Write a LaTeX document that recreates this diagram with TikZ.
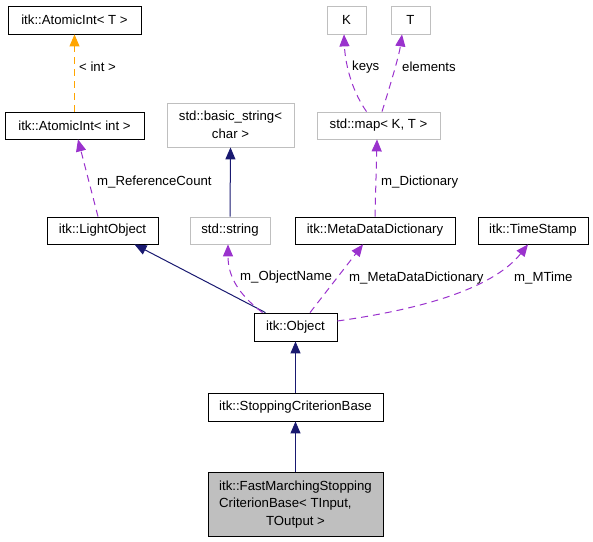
\documentclass[tikz,border=0pt]{standalone}
\usepackage{fontspec}
\setmainfont{Liberation Sans}
\usetikzlibrary{arrows.meta}
\tikzset {>={Triangle[length=12pt,width=10pt]}}
\definecolor{navyblue}{HTML}{191970}
\definecolor{orchid}{HTML}{9A32CD}
\definecolor{doxorange}{HTML}{FFA500}
\definecolor{boxgray}{HTML}{BFBFBF}
\tikzset{
  cls/.style={draw=black,line width=.8pt,inner sep=0pt,minimum height=27pt,
    font=\fontsize{13.2}{17.5}\selectfont,align=center},
  ext/.style={cls,draw=boxgray},
  inh/.style={navyblue,line width=1pt,->},
  use/.style={orchid,line width=1pt,dash pattern=on 7pt off 5pt,->},
  tpl/.style={doxorange,line width=1pt,dash pattern=on 7pt off 5pt,->},
  lbl/.style={anchor=west,inner sep=0pt,font=\fontsize{13.2}{16}\selectfont}
}

\begin{document}
\begin{tikzpicture}[x=1pt,y=-1pt]
\useasboundingbox (0,0) rectangle (593,541);
% classes
\node[cls,minimum width=133pt,minimum height=28pt] (AIT) at (74.5,20) {itk::AtomicInt< T >};
\node[cls,minimum width=139pt] (AIint) at (74.5,125.5) {itk::AtomicInt< int >};
\node[ext,minimum width=127pt,minimum height=44pt] (BS) at (230.5,125) {std::basic\_string<\\char >};
\node[cls,minimum width=111pt] (LO) at (102.5,230.5) {itk::LightObject};
\node[ext,minimum width=80pt] (SS) at (230,230.5) {std::string};
\node[cls,minimum width=160pt] (MDD) at (375,230.5) {itk::MetaDataDictionary};
\node[cls,minimum width=110pt] (TS) at (533,230.5) {itk::TimeStamp};
\node[ext,minimum width=39pt,minimum height=28pt] (K) at (346.5,20) {K};
\node[ext,minimum width=39pt,minimum height=28pt] (T) at (410.5,20) {T};
\node[ext,minimum width=123pt] (MAP) at (378.5,125.5) {std::map< K, T >};
\node[cls,minimum width=83pt,minimum height=28pt] (OBJ) at (295.5,327) {itk::Object};
\node[cls,minimum width=175pt,minimum height=28pt] (SCB) at (295.5,407) {itk::StoppingCriterionBase};
\node[cls,fill=boxgray,minimum width=175pt,minimum height=64pt] (FM) at (295.5,504)
  {\begin{tabular}{@{}l@{}}itk::FastMarchingStopping\\CriterionBase< TInput,\\
   \multicolumn{1}{@{}c@{}}{TOutput >}\end{tabular}};

% edges
\draw[tpl] (AIint.north) -- (AIT.south);
\node[lbl] at (79,67) {< int >};
\draw[use] ([xshift=-4.5pt]LO.north) -- ([xshift=3.5pt]AIint.south);
\node[lbl] at (97,182) {m\_ReferenceCount};
\draw[inh] (SS.north) -- (BS.south);
\draw[inh] ([xshift=-30pt]OBJ.north) -- ([xshift=32pt]LO.south);
\draw[use] ([xshift=-33pt]OBJ.north) .. controls (238,294) and (228,276) .. ([xshift=-2pt]SS.south);
\node[lbl] at (240,277) {m\_ObjectName};
\draw[use] ([xshift=14.5pt]OBJ.north) -- ([xshift=-12pt]MDD.south);
\node[lbl] at (349,278) {m\_MetaDataDictionary};
\draw[use] ([yshift=6pt]OBJ.east) .. controls (430,308) and (495,286) .. ([xshift=-5pt]TS.south);
\node[lbl] at (514,278) {m\_MTime};
\draw[use] (MDD.north) -- ([xshift=-1.5pt]MAP.south);
\node[lbl] at (381,182) {m\_Dictionary};
\draw[use] ([xshift=-12pt]MAP.north) .. controls (350,88) and (345,60) .. ([xshift=-2.5pt]K.south);
\node[lbl] at (352,67) {keys};
\draw[use] ([xshift=3.5pt]MAP.north) .. controls (390,86) and (399,56) .. ([xshift=-8.5pt]T.south);
\node[lbl] at (402,67) {elements};
\draw[inh] (SCB.north) -- (OBJ.south);
\draw[inh] (FM.north) -- (SCB.south);
\end{tikzpicture}
\end{document}
